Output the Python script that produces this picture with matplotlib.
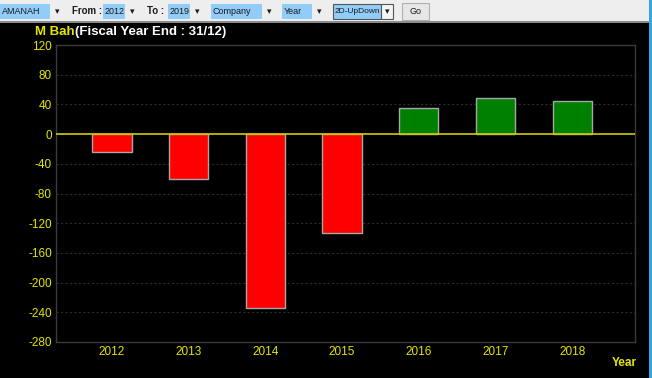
import matplotlib.pyplot as plt
from matplotlib.patches import Rectangle

plt.rcParams['font.family'] = ['Liberation Sans', 'DejaVu Sans']

years = ['2012', '2013', '2014', '2015', '2016', '2017', '2018']
values = [-24, -60, -234, -133, 35, 48, 45]
yticks = [120, 80, 40, 0, -40, -80, -120, -160, -200, -240, -280]

W, H = 652, 378
fig = plt.figure(figsize=(W / 100, H / 100), dpi=100)
fig.patch.set_facecolor('black')

yellow = '#e6e600'

# toolbar strip at the top
def px(x, y, w, h):
    return (x / W, 1 - (y + h) / H, w / W, h / H)

def box(x, y, w, h, fc, ec='none', lw=0.8):
    l, b, ww, hh = px(x, y, w, h)
    fig.patches.append(Rectangle((l, b), ww, hh, transform=fig.transFigure,
                                 facecolor=fc, edgecolor=ec, linewidth=lw, zorder=1))

box(0, 0, 650, 21, '#eeeeee')
box(0, 21, 650, 1.5, '#8a8a8a')
box(649, 0, 3, 378, '#35a7e0')

def tb_text(x, s, bold=False, ha='left', size=6.5):
    fig.text(x / W, 1 - 11.5 / H, s, fontsize=size, color='#1a1a1a', ha=ha, va='center',
             fontweight='bold' if bold else 'normal')

def combo(x, w, label):
    box(x, 4, w, 15, '#92cdfa')
    tb_text(x + 1.5, label)
    tb_text(x + w + 7, '\u25be', ha='center')

combo(0, 50, 'AMANAH')
tb_text(72, 'From :', bold=True, size=7)
combo(103, 22, '2012')
tb_text(147, 'To :', bold=True, size=7)
combo(168, 22, '2019')
combo(211, 51, 'Company')
combo(282, 30, 'Year')
box(333, 4, 48, 15, '#92cdfa', ec='#555555')
tb_text(334.5, '2D-UpDown', size=6)
box(381, 4, 12, 15, '#f4f4f4', ec='#555555')
tb_text(387, '\u25be', ha='center')
box(402, 3, 27, 17, '#e6e6e6', ec='#b0b0b0')
tb_text(415.5, 'Go', ha='center')

# chart area
ax = fig.add_axes([56 / W, 1 - 342 / H, (635 - 56) / W, (342 - 45) / H])
ax.set_facecolor('black')

colors = ['#ff0000' if v < 0 else '#008000' for v in values]
ax.bar(range(len(years)), values, width=0.51, color=colors,
       edgecolor='#a8a8a8', linewidth=1, zorder=3)
ax.axhline(0, color='#cccc00', linewidth=1.2, zorder=4)

ax.set_ylim(-280, 120)
ax.set_xlim(-0.73, 6.82)
ax.set_yticks(yticks)
ax.set_yticklabels([str(t) for t in yticks])
ax.set_xticks(range(len(years)))
ax.set_xticklabels(years)
ax.tick_params(colors=yellow, labelsize=8.5, length=0, pad=3)
ax.grid(axis='y', color='#2c2c2c', linestyle=(0, (2, 2)), linewidth=0.8, zorder=0)
for s in ax.spines.values():
    s.set_color('#3a3a3a')
    s.set_linewidth(1)

t1 = fig.text(35 / W, 1 - 32 / H, 'M Bah', color=yellow, fontsize=9.5,
              fontweight='bold', va='center')
fig.add_artist(plt.Annotation('(Fiscal Year End : 31/12)', xy=(1, 0.5), xycoords=t1,
                              xytext=(0.5, 0), textcoords='offset points',
                              color='white', fontsize=9.5, fontweight='bold', va='center'))
fig.text(637 / W, 1 - 363 / H, 'Year', color=yellow, fontsize=8.5, fontweight='bold',
         ha='right', va='center')

fig.savefig('out.png', dpi=100, facecolor=fig.get_facecolor())
